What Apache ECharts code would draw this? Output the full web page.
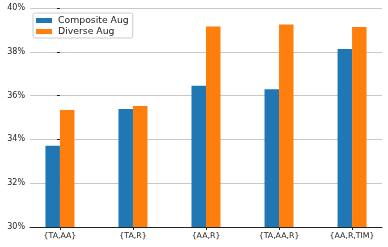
<!DOCTYPE html>
<html><head><meta charset="utf-8">
<script src="https://cdn.jsdelivr.net/npm/echarts@6/dist/echarts.min.js"></script>
<style>html,body{margin:0;padding:0;background:#fff}#c{width:388px;height:247px}</style>
</head><body><div id="c"></div>
<script>
const categories = ['{TA,AA}', '{TA,R}', '{AA,R}', '{TA,AA,R}', '{AA,R,TIM}'];
const compositeAug = [33.71, 35.39, 36.45, 36.29, 38.13];
const diverseAug = [35.34, 35.52, 39.15, 39.25, 39.13];
const yTicks = [30, 32, 34, 36, 38, 40];

const pos = categories.map((_, i) => i);
const chart = echarts.init(document.getElementById('c'), null, {renderer: 'canvas'});
const font = "'DejaVu Sans', sans-serif";
chart.setOption({
  animation: false,
  textStyle: {fontFamily: font},
  grid: {left: 30, right: 6, top: 8, bottom: 20},
  legend: {
    orient: 'vertical', left: 33, top: 13,
    itemWidth: 16, itemHeight: 5, itemGap: 2,
    padding: [3, 4, 2, 3],
    borderColor: '#cccccc', borderWidth: 1, borderRadius: 2,
    textStyle: {fontFamily: font, fontSize: 9.3, color: '#222', padding: [0, 0, 0, 1]},
    icon: 'rect',
    data: ['Composite Aug', 'Diverse Aug']
  },
  xAxis: {
    type: 'value', min: -0.41, max: 4.41,
    splitLine: {show: false},
    axisLine: {lineStyle: {color: '#222', width: 1}},
    axisTick: {show: true, length: 3, customValues: pos, lineStyle: {color: '#222'}},
    axisLabel: {
      customValues: pos, margin: 5, fontSize: 7.8, color: '#222', fontFamily: font,
      formatter: v => categories[Math.round(v)]
    }
  },
  yAxis: {
    type: 'value', min: yTicks[0], max: yTicks[yTicks.length - 1], interval: 2,
    axisLine: {show: false},
    axisTick: {show: true, length: 3, lineStyle: {color: '#222'}},
    axisLabel: {formatter: '{value}%', fontSize: 8, color: '#222', margin: 5, fontFamily: font},
    splitLine: {lineStyle: {color: '#c8c8c8', width: 1}}
  },
  series: [
    {name: 'Composite Aug', type: 'bar', barWidth: 14.5, barGap: '0%',
     itemStyle: {color: '#1f77b4'}, data: pos.map((p, i) => [p, compositeAug[i]])},
    {name: 'Diverse Aug', type: 'bar', barWidth: 14.5, barGap: '0%',
     itemStyle: {color: '#ff7f0e'}, data: pos.map((p, i) => [p, diverseAug[i]])}
  ]
});
</script></body></html>
